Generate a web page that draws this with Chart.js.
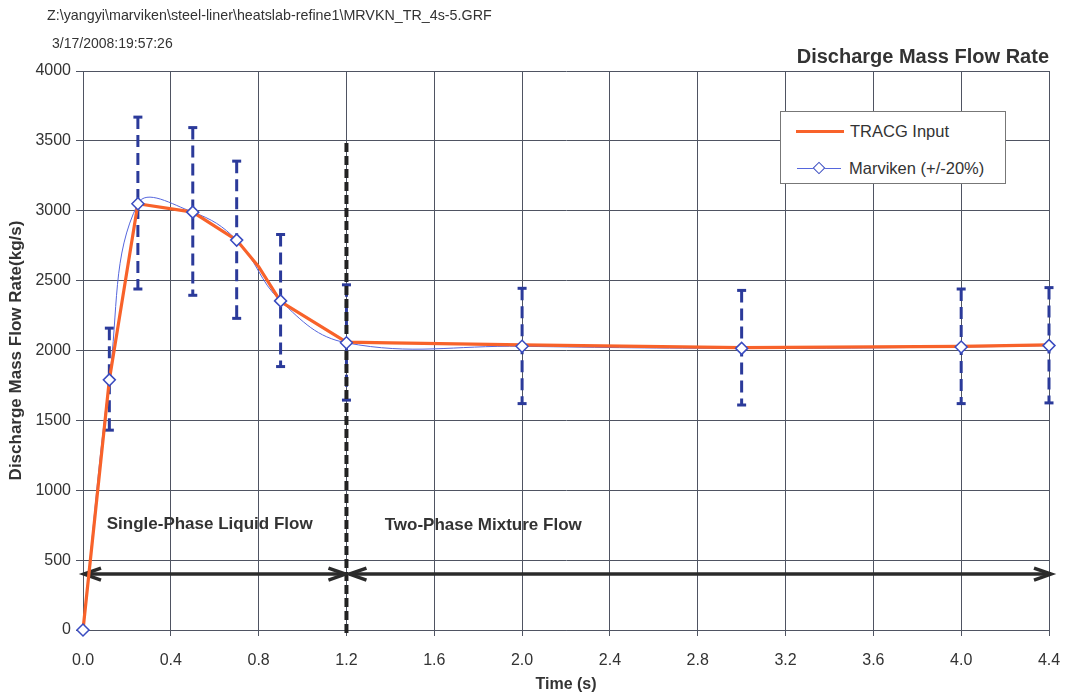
<!DOCTYPE html>
<html><head><meta charset="utf-8">
<script src="https://cdn.jsdelivr.net/npm/chart.js@4/dist/chart.umd.min.js"></script>
<style>
html,body{margin:0;padding:0;background:#fff;}
#wrap{position:relative;width:1068px;height:697px;font-family:"Liberation Sans",Arial,sans-serif;color:#333;overflow:hidden;}
canvas{position:absolute;left:0;top:0;}
.hdr{position:absolute;white-space:nowrap;line-height:1;}
#legend{position:absolute;left:780px;top:111px;width:224px;height:71px;border:1px solid #777;background:#fff;font-size:16.5px;color:#333;}
.lt{position:absolute;white-space:nowrap;line-height:1;transform:translateY(-50%);}
.ls{position:absolute;}
.dm{position:absolute;width:7px;height:7px;background:#fff;border:1.5px solid #3a4cc0;transform:translate(-50%,-50%) rotate(45deg);}
</style></head>
<body>
<div id="wrap">
<canvas id="c" width="1068" height="697"></canvas>
<div class="hdr" style="left:47px;top:8px;font-size:14.3px;">Z:\yangyi\marviken\steel-liner\heatslab-refine1\MRVKN_TR_4s-5.GRF</div>
<div class="hdr" style="left:52px;top:36px;font-size:14px;">3/17/2008:19:57:26</div>
<div id="legend">
  <div class="ls" style="left:15px;top:17.5px;width:48px;height:3px;background:#f8622a;"></div>
  <div class="lt" style="left:69px;top:19px;">TRACG Input</div>
  <div class="ls" style="left:16px;top:55.5px;width:44px;height:1px;background:#5566dd;"></div>
  <div class="dm" style="left:38px;top:56px;"></div>
  <div class="lt" style="left:68px;top:56px;">Marviken (+/-20%)</div>
</div>
</div>
<script>
// ---- data ----
const marvikenTime = [0, 0.12, 0.25, 0.5, 0.7, 0.9, 1.2, 2.0, 3.0, 4.0, 4.4];
const marvikenFlow = [0, 1790, 3050, 2990, 2790, 2355, 2055, 2030, 2015, 2025, 2035];
const errLow  = [null, 1430, 2440, 2395, 2230, 1885, 1645, 1620, 1610, 1620, 1625];
const errHigh = [null, 2160, 3670, 3595, 3355, 2830, 2470, 2445, 2430, 2440, 2450];
const tracgTime = [0, 0.12, 0.25, 0.5, 0.7, 0.8, 0.9, 1.2, 1.4, 2.0, 3.0, 4.0, 4.4];
const tracgFlow = [0, 1790, 3050, 2990, 2790, 2600, 2350, 2060, 2055, 2040, 2020, 2030, 2040];
const xTickValues = [0, 0.4, 0.8, 1.2, 1.6, 2.0, 2.4, 2.8, 3.2, 3.6, 4.0, 4.4];
const boundaryTime = 1.2;
const boundaryTop = 3500;
const arrowFlow = 400;
const regionLabels = ['Single-Phase Liquid Flow', 'Two-Phase Mixture Flow'];
const regionLabelTime = [0.108, 1.374];
const regionLabelFlow = [755, 750];

const FONT = '"Liberation Sans", Arial, sans-serif';
const GRID = '#4f5462';
const TXT = '#333';

const errDatasets = marvikenTime.map((t, i) => errLow[i] == null ? null : ({
  data: [{x: t, y: errHigh[i]}, {x: t, y: errLow[i]}],
  borderColor: '#2b3a9a', borderWidth: 3, borderDash: [12, 6],
  pointStyle: 'line', pointRadius: 4.5, pointBorderWidth: 3,
  pointBorderColor: '#2b3a9a', pointBackgroundColor: '#2b3a9a', tension: 0
})).filter(Boolean);

const annot = {
  id: 'annot',
  beforeDatasetDraw(chart, args) {
    if (args.index !== 2) return;
    const {ctx, scales: {x, y}} = chart;
    ctx.save();
    const px = x.getPixelForValue(boundaryTime);
    ctx.strokeStyle = '#222'; ctx.lineWidth = 4; ctx.setLineDash([9, 4]);
    ctx.beginPath(); ctx.moveTo(px, y.getPixelForValue(0) + 3); ctx.lineTo(px, y.getPixelForValue(boundaryTop)); ctx.stroke();
    ctx.setLineDash([]);
    const ay = y.getPixelForValue(arrowFlow);
    const x0 = x.getPixelForValue(0) + 1, x1 = px - 1, x2 = px + 3, x3 = x.getPixelForValue(4.4) + 2;
    ctx.strokeStyle = '#2b2b2b'; ctx.lineWidth = 3.5; ctx.lineCap = 'butt';
    const seg = (a, b) => { ctx.beginPath(); ctx.moveTo(a, ay); ctx.lineTo(b, ay); ctx.stroke(); };
    const head = (tip, dir) => { ctx.beginPath(); ctx.moveTo(tip - dir * 17, ay - 6); ctx.lineTo(tip, ay); ctx.lineTo(tip - dir * 17, ay + 6); ctx.stroke(); };
    seg(x0, x1); head(x0, -1); head(x1, 1);
    seg(x2, x3); head(x2, -1); head(x3, 1);
    ctx.fillStyle = TXT; ctx.font = 'bold 17px ' + FONT; ctx.textBaseline = 'middle'; ctx.textAlign = 'left';
    regionLabels.forEach((s, i) => ctx.fillText(s, x.getPixelForValue(regionLabelTime[i]), y.getPixelForValue(regionLabelFlow[i])));
    ctx.restore();
  }
};

new Chart(document.getElementById('c'), {
  type: 'line',
  data: {
    datasets: [
      { label: 'Marviken (+/-20%)', data: marvikenTime.map((t, i) => ({x: t, y: marvikenFlow[i]})),
        showLine: false, pointStyle: 'rectRot', pointRadius: 6, pointBackgroundColor: '#fff',
        pointBorderColor: '#3a4cc0', pointBorderWidth: 1.5 },
      { label: 'TRACG Input', data: tracgTime.map((t, i) => ({x: t, y: tracgFlow[i]})),
        borderColor: '#f8622a', borderWidth: 3.2, pointRadius: 0, tension: 0 },
      { label: 'Marviken line', data: marvikenTime.map((t, i) => ({x: t, y: marvikenFlow[i]})),
        borderColor: '#5566dd', borderWidth: 1, pointRadius: 0, tension: 0.4 },
      ...errDatasets
    ]
  },
  options: {
    responsive: false, animation: false, clip: false,
    layout: { padding: { left: 0, right: 19, top: 0, bottom: 0 } },
    plugins: {
      legend: { display: false }, tooltip: { enabled: false },
      title: { display: true, text: 'Discharge Mass Flow Rate', align: 'end', color: TXT,
        font: { family: FONT, size: 20, weight: 'bold', lineHeight: 1.2 }, padding: { top: 45, bottom: 2 } }
    },
    scales: {
      x: { type: 'linear', min: 0, max: 4.4,
        afterBuildTicks: s => { s.ticks = xTickValues.map(v => ({value: v})); },
        afterFit: s => { s.height = 67; s.paddingRight = 0; s.paddingLeft = 0; },
        ticks: { color: TXT, font: { family: FONT, size: 16 }, padding: 15, maxRotation: 0, autoSkip: false,
          callback: v => Number(v).toFixed(1) },
        grid: { color: GRID, lineWidth: 1, tickLength: 6, tickColor: GRID },
        border: { color: GRID, width: 1 },
        title: { display: true, text: 'Time (s)', color: TXT, font: { family: FONT, size: 16, weight: 'bold' }, padding: { top: 0, bottom: 2.4 } }
      },
      y: { min: 0, max: 4000,
        afterFit: s => { s.width = 83; },
        ticks: { stepSize: 500, color: TXT, font: { family: FONT, size: 16 }, padding: 5,
          callback: v => String(v) },
        grid: { color: GRID, lineWidth: 1, tickLength: 7, tickColor: GRID },
        border: { color: GRID, width: 1 },
        title: { display: true, text: 'Discharge Mass Flow Rate(kg/s)', color: TXT, font: { family: FONT, size: 17, weight: 'bold' }, padding: { top: 6, bottom: 0 } }
      }
    }
  },
  plugins: [annot]
});
</script>
</body></html>
